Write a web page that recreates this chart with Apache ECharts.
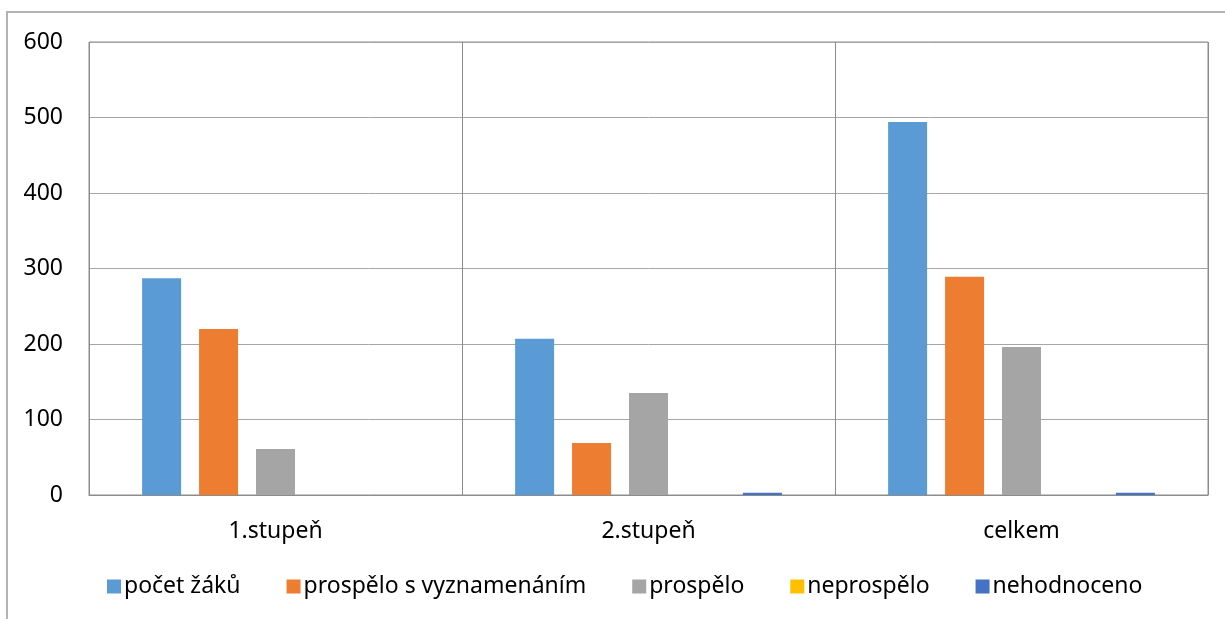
<!DOCTYPE html>
<html><head><meta charset="utf-8">
<script src="https://cdn.jsdelivr.net/npm/echarts@6/dist/echarts.min.js"></script>
<style>html,body{margin:0;padding:0;background:#fff}#c{width:1225px;height:619px}</style>
</head><body><div id="c"></div>
<script>
const categories = ['1.stupeň', '2.stupeň', 'celkem'];
const seriesNames = ['počet žáků', 'prospělo s vyznamenáním', 'prospělo', 'neprospělo', 'nehodnoceno'];
const pocetZaku = [287, 207, 494];
const vyznamenani = [220, 69, 289];
const prospelo = [61, 135, 196];
const neprospelo = [0, 0, 0];
const nehodnoceno = [0, 3, 3];
const yTicks = [0, 100, 200, 300, 400, 500, 600];
const colors = ['#5B9BD5', '#ED7D31', '#A5A5A5', '#FFC000', '#4472C4'];
const values = [pocetZaku, vyznamenani, prospelo, neprospelo, nehodnoceno];

const chart = echarts.init(document.getElementById('c'));
const font = 'Noto Sans, sans-serif';
chart.setOption({
  animation: false,
  textStyle: {fontFamily: font},
  graphic: [{type: 'rect', shape: {x: 7, y: 12, width: 1240, height: 640},
    style: {fill: 'none', stroke: '#b3b3b3', lineWidth: 2}, silent: true}],
  grid: {left: 89, right: 17, top: 42, bottom: 124, show: true, borderColor: '#8c8c8c', borderWidth: 1},
  legend: {
    top: 570, left: 102, itemWidth: 14, itemHeight: 14, itemGap: 46,
    icon: 'rect',
    textStyle: {fontSize: 23, color: '#000', fontFamily: font, padding: [0, 0, 0, -2]},
    data: seriesNames
  },
  xAxis: {
    type: 'category', data: categories,
    axisLine: {lineStyle: {color: '#8c8c8c'}}, axisTick: {show: false},
    axisLabel: {fontSize: 23, color: '#000', margin: 25, fontFamily: font},
    splitLine: {show: true, lineStyle: {color: '#8c8c8c'}}
  },
  yAxis: {
    type: 'value', min: yTicks[0], max: yTicks[yTicks.length - 1], interval: 100,
    axisLine: {show: false}, axisTick: {show: false},
    axisLabel: {fontSize: 23, color: '#000', margin: 26, fontFamily: font, padding: [3, 0, 0, 0]},
    splitLine: {lineStyle: {color: '#a6a6a6'}}
  },
  series: seriesNames.map((n, i) => ({
    name: n, type: 'bar', data: values[i], barWidth: 39, barGap: '46%',
    itemStyle: {color: colors[i]}
  }))
});
</script></body></html>
